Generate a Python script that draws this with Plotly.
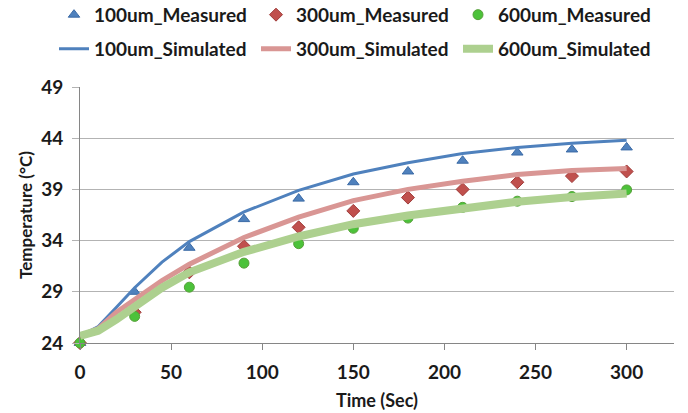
import plotly.graph_objects as go

# Measured data
t_meas = [0, 30, 60, 90, 120, 150, 180, 210, 240, 270, 300]
m100 = [24.0, 29.0, 33.3, 36.1, 38.1, 39.7, 40.75, 41.8, 42.6, 42.9, 43.1]
m300 = [24.0, 27.0, 30.9, 33.45, 35.3, 36.9, 38.2, 39.0, 39.7, 40.3, 40.75]
m600 = [24.0, 26.6, 29.45, 31.8, 33.7, 35.2, 36.2, 37.25, 37.85, 38.3, 38.95]

# Simulated data
t_sim = [0, 10, 20, 30, 45, 60, 90, 120, 150, 180, 210, 240, 270, 300]
s100 = [24.7, 25.6, 27.5, 29.4, 31.9, 33.9, 36.8, 38.9, 40.5, 41.6, 42.5, 43.1, 43.5, 43.8]
s300 = [24.7, 25.4, 27.0, 28.3, 30.1, 31.7, 34.3, 36.3, 37.9, 39.0, 39.8, 40.45, 40.85, 41.05]
s600 = [24.7, 25.2, 26.3, 27.6, 29.4, 30.9, 32.9, 34.4, 35.6, 36.45, 37.2, 37.8, 38.25, 38.6]

x_ticks = [0, 50, 100, 150, 200, 250, 300]
y_ticks = [24, 29, 34, 39, 44, 49]

FONT = "Lato"
TXT = "#1a1a1a"

fig = go.Figure()
fig.add_trace(go.Scatter(x=t_meas, y=m100, mode="markers", name="100um_Measured", legend="legend",
                         marker=dict(symbol="triangle-up", size=10, color="#4F81BD",
                                     line=dict(color="#3A6AA6", width=1)), cliponaxis=False))
fig.add_trace(go.Scatter(x=t_meas, y=m300, mode="markers", name="300um_Measured", legend="legend",
                         marker=dict(symbol="diamond", size=10, color="#C0504D",
                                     line=dict(color="#A03C3A", width=1)), cliponaxis=False))
fig.add_trace(go.Scatter(x=t_meas, y=m600, mode="markers", name="600um_Measured", legend="legend",
                         marker=dict(symbol="circle", size=10, color="#4CC23A",
                                     line=dict(color="#58A03A", width=1)), cliponaxis=False))
fig.add_trace(go.Scatter(x=t_sim, y=s100, mode="lines", name="100um_Simulated", legend="legend2",
                         line=dict(color="#4F81BD", width=3)))
fig.add_trace(go.Scatter(x=t_sim, y=s300, mode="lines", name="300um_Simulated", legend="legend2",
                         line=dict(color="#D99694", width=5)))
fig.add_trace(go.Scatter(x=t_sim, y=s600, mode="lines", name="600um_Simulated", legend="legend2",
                         line=dict(color="#ADD08F", width=8)))

PLOT_L, PLOT_W = 80, 594
leg_common = dict(orientation="h", xref="paper", x=(54 - PLOT_L) / PLOT_W, xanchor="left",
                  yref="paper", yanchor="middle", entrywidth=157, itemwidth=30,
                  font=dict(family=FONT, size=19, weight="bold", color=TXT),
                  bgcolor="rgba(0,0,0,0)", borderwidth=0)

fig.update_layout(
    width=688, height=413,
    margin=dict(l=PLOT_L, r=688 - PLOT_L - PLOT_W, t=87, b=70, autoexpand=False),
    paper_bgcolor="white", plot_bgcolor="white",
    font=dict(family=FONT, size=17, color=TXT),
    legend=dict(y=1.282, **leg_common),
    legend2=dict(y=1.149, **leg_common),
    showlegend=True,
)
fig.update_xaxes(range=[0, 326], tickvals=x_ticks, ticktext=[str(v) for v in x_ticks],
                 showgrid=False, zeroline=False, showline=True, linecolor="#868686", linewidth=1,
                 ticks="outside", ticklen=6, tickcolor="#868686", ticklabelstandoff=6,
                 tickfont=dict(family=FONT, size=19, weight="bold", color=TXT),
                 title=dict(text="Time (Sec)", font=dict(family=FONT, size=18, weight="bold", color=TXT),
                            standoff=12))
fig.update_yaxes(range=[24, 49], tickvals=y_ticks, ticktext=[str(v) for v in y_ticks],
                 showgrid=True, gridcolor="#B3B3B3", gridwidth=1, zeroline=False,
                 showline=True, linecolor="#868686", linewidth=1,
                 ticks="outside", ticklen=7, tickcolor="#B3B3B3", ticklabelstandoff=5,
                 tickfont=dict(family=FONT, size=19, weight="bold", color=TXT),
                 title=dict(text="Temperature (°C)", font=dict(family=FONT, size=17, weight="bold", color=TXT),
                            standoff=4))

fig.write_html("out.html")
